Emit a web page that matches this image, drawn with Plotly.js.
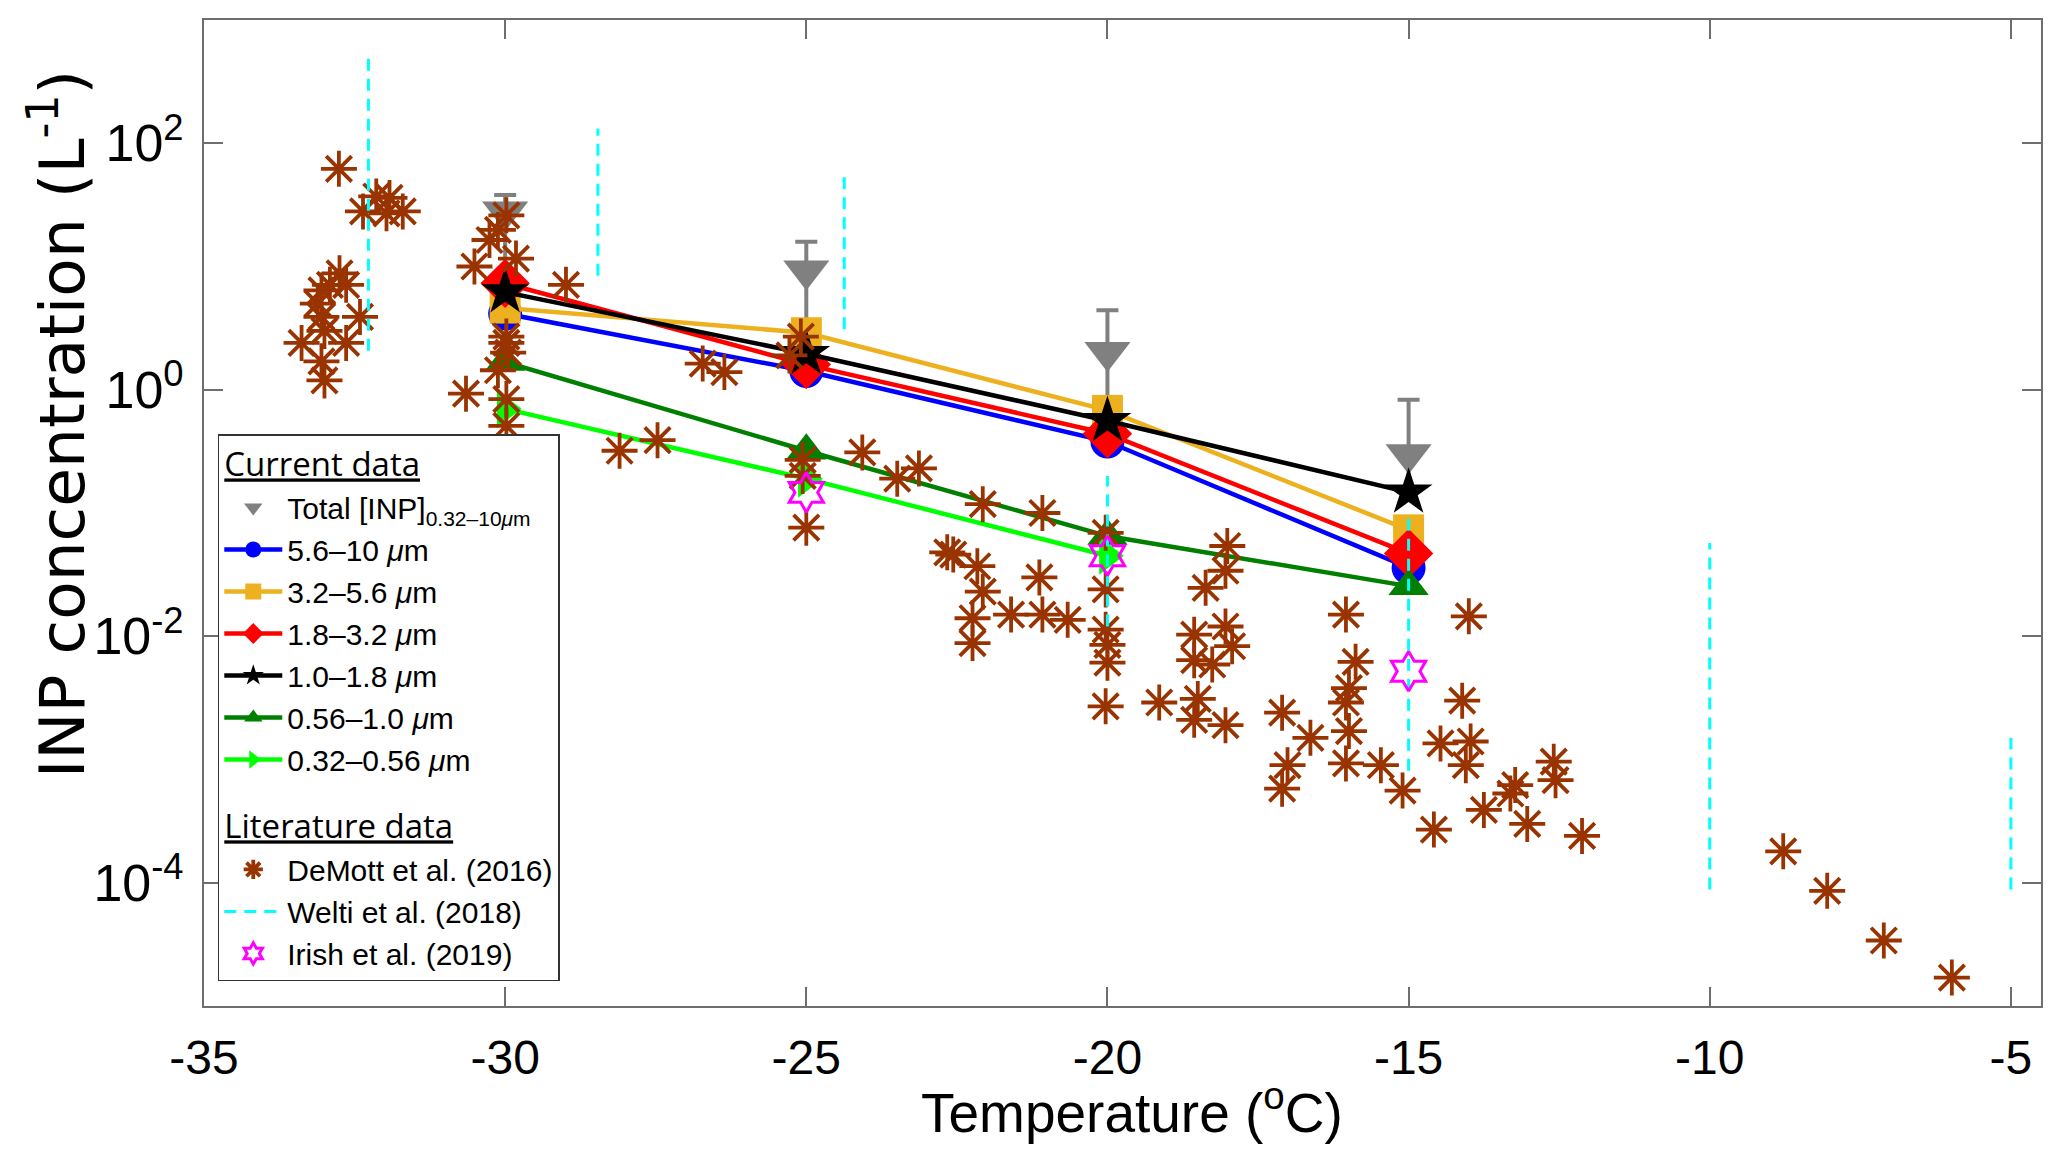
<!DOCTYPE html>
<html>
<head>
<meta charset="utf-8">
<script src="https://cdn.plot.ly/plotly-3.0.1.min.js"></script>
<style>html,body{margin:0;padding:0;background:#fff}#chart{width:2067px;height:1154px}</style>
</head>
<body>
<div id="chart"></div>
<script>
// size-resolved INP, sampled at four temperatures
const temps = [-30, -25, -20, -15];
const totalInp = [28, 9.3, 2.02, 0.30];
const totalErrPlus = [10, 6.6, 2.4, 0.53];
const totalErrMinus = [20, 6.5, 1.35, 0.15];
const inp56to10 = [4.15, 1.42, 0.38, 0.036];
const inp32to56 = [4.6, 2.9, 0.68, 0.073];
const inp18to32 = [7.3, 1.6, 0.44, 0.047];
const inp10to18 = [6.2, 1.96, 0.56, 0.147];
const inp056to10 = [1.68, 0.32, 0.065, 0.0255];
const temps032 = [-30, -25, -20];
const inp032to056 = [0.70, 0.19, 0.045];

// DeMott et al. (2016)
const demottT = [
  -32.76, -32.14, -31.92, -32.36, -31.70, -31.97,
  -32.75, -32.91, -32.64, -33.05, -33.11, -32.41, -33.05, -33.0, -33.38, -32.64, -33.05, -33.0,
  -29.98, -30.12, -30.26, -29.82, -30.51, -28.99,
  -29.98, -29.98, -29.95, -30.12, -30.65, -29.98, -29.98, -28.1, -27.47,
  -26.72, -26.36, -25.28, -25.09, -25.06, -25.06, -25.0, -24.07, -23.49, -23.13, -22.07,
  -22.66, -22.56, -22.16, -22.07, -22.24, -22.24, -21.6,
  -21.08, -20.03, -21.13, -21.08, -20.66, -20.03, -20.03, -20.0, -20.0, -20.03,
  -19.14, -18.56, -18.56, -18.26, -18.04, -17.93, -18.01, -18.04, -18.37, -18.5, -18.56, -18.04, -17.1, -17.01, -17.1,
  -16.04, -14.0, -15.88, -15.99, -16.04, -15.99, -16.04, -16.63, -15.46, -15.1, -14.11, -14.47, -13.97, -14.05,
  -14.58, -13.75, -13.31, -13.23, -13.03, -12.59, -12.56, -12.12,
  -8.78, -8.05, -7.11, -5.98
];
const demottInp = [
  62, 37, 36, 28, 28, 27,
  8.8, 7.1, 7.1, 6.4, 5.0, 3.9, 3.9, 3.0, 2.4, 2.4, 1.7, 1.19,
  26, 19.8, 16.4, 11.6, 10, 7.1,
  2.4, 2.7, 2.0, 1.44, 0.93, 0.84, 0.51, 0.32, 0.39,
  1.63, 1.39, 1.9, 2.7, 0.27, 0.2, 0.076, 0.31, 0.19, 0.23, 0.118,
  0.048, 0.046, 0.037, 0.023, 0.014, 0.0088, 0.015,
  0.10, 0.069, 0.030, 0.015, 0.0136, 0.024, 0.0113, 0.0085, 0.0061, 0.0027,
  0.0029, 0.0103, 0.0064, 0.0059, 0.012, 0.0083, 0.054, 0.034, 0.0247, 0.0031, 0.0021, 0.0019, 0.0024, 0.0009, 0.00058,
  0.015, 0.0145, 0.0062, 0.0038, 0.0029, 0.0017, 0.00093, 0.0015, 0.0009, 0.00056, 0.0030, 0.00135, 0.0014, 0.0009,
  0.00027, 0.00039, 0.00053, 0.00062, 0.0003, 0.00096, 0.00068, 0.00024,
  1.8e-4, 8.6e-5, 3.4e-5, 1.7e-5
];

// Welti et al. (2018) ranges
const weltiT = [-32.27, -28.46, -24.37, -20, -15, -10, -5];
const weltiLow = [2.07, 8.4, 3.1, 0.012, 8.1e-4, 8.8e-5, 8.8e-5];
const weltiHigh = [513, 132, 55, 0.2, 0.095, 0.057, 0.0015];

// Irish et al. (2019)
const irishT = [-25, -20, -15];
const irishInp = [0.147, 0.045, 0.0052];

const xTicks = [-35, -30, -25, -20, -15, -10, -5];
const xTickText = ['-35', '-30', '-25', '-20', '-15', '-10', '-5'];
const yTicks = [1e-4, 1e-2, 1, 100];
const yTickText = ['10<sup>-4</sup>', '10<sup>-2</sup>', '10<sup>0</sup>', '10<sup>2</sup>'];

const narrow = 'Liberation Sans Narrow, Arial Narrow, Liberation Sans, sans-serif';
const um = '<i>\u03bc</i>m';

function sizeTrace(x, y, name, color, symbol, size) {
  return {
    x: x, y: y, name: name, type: 'scatter', mode: 'lines+markers',
    legendgroup: 'cur', legendgrouptitle: {text: '<u>Current data</u>'},
    line: {color: color, width: 4.5},
    marker: {color: color, symbol: symbol, size: size}
  };
}

// build welti as broken vertical segments
const wX = [], wY = [];
weltiT.forEach((t, i) => {
  wX.push(t, t, null);
  wY.push(weltiLow[i], weltiHigh[i], null);
});

const traces = [
  {
    x: temps, y: totalInp, name: 'Total [INP]<sub>0.32\u201310' + um + '</sub>',
    type: 'scatter', mode: 'markers',
    legendgroup: 'cur', legendgrouptitle: {text: '<u>Current data</u>'},
    marker: {color: '#808080', symbol: 'triangle-down', size: 40},
    error_y: {type: 'data', symmetric: false, array: totalErrPlus, arrayminus: totalErrMinus,
      color: '#808080', thickness: 4, width: 11}
  },
  sizeTrace(temps, inp56to10, '5.6\u201310 ' + um, '#0000ff', 'circle', 34),
  sizeTrace(temps, inp32to56, '3.2\u20135.6 ' + um, '#edb120', 'square', 31),
  sizeTrace(temps, inp18to32, '1.8\u20133.2 ' + um, '#ff0000', 'diamond', 38),
  sizeTrace(temps, inp10to18, '1.0\u20131.8 ' + um, '#000000', 'star', 36),
  sizeTrace(temps, inp056to10, '0.56\u20131.0 ' + um, '#007f00', 'triangle-up', 35),
  sizeTrace(temps032, inp032to056, '0.32\u20130.56 ' + um, '#00ff00', 'triangle-right', 33),
  {
    x: demottT, y: demottInp, name: 'DeMott et al. (2016)', type: 'scatter', mode: 'markers',
    legendgroup: 'lit', legendgrouptitle: {text: '<u>Literature data</u>'},
    marker: {symbol: 'asterisk-open', size: 30, color: '#993300', line: {color: '#993300', width: 3.8}}
  },
  {
    x: wX, y: wY, name: 'Welti et al. (2018)', type: 'scatter', mode: 'lines',
    legendgroup: 'lit', connectgaps: false,
    line: {color: '#00ffff', width: 3, dash: '12px,8px'}
  },
  {
    x: irishT, y: irishInp, name: 'Irish et al. (2019)', type: 'scatter', mode: 'markers',
    legendgroup: 'lit',
    marker: {symbol: 'hexagram-open', size: 30, color: '#ff00ff', line: {color: '#ff00ff', width: 3}}
  }
];

const axisCommon = {
  showline: true, linecolor: '#6e6e6e', linewidth: 2, mirror: 'ticks',
  ticks: 'inside', ticklen: 19, tickwidth: 2, tickcolor: '#6e6e6e',
  showgrid: false, zeroline: false
};

const layout = {
  width: 2067, height: 1154,
  margin: {l: 204, r: 26, t: 20, b: 148},
  paper_bgcolor: '#fff', plot_bgcolor: '#fff',
  showlegend: true,
  xaxis: Object.assign({}, axisCommon, {
    range: [-35, -4.5], tickmode: 'array', tickvals: xTicks, ticktext: xTickText,
    ticklabelstandoff: 8,
    tickfont: {family: narrow, size: 48, color: '#000'}
  }),
  yaxis: Object.assign({}, axisCommon, {
    type: 'log', range: [-5, 3], tickmode: 'array', tickvals: yTicks, ticktext: yTickText,
    ticklabelstandoff: 8,
    tickfont: {family: narrow, size: 52, color: '#000'}
  }),
  // axis titles placed as in the original figure (y title sits above centre)
  annotations: [
    {text: 'Temperature (<sup>o</sup>C)', xref: 'paper', yref: 'paper', x: 0.505, y: -0.104,
      xanchor: 'center', yanchor: 'middle', showarrow: false,
      font: {family: narrow, size: 55, color: '#000'}},
    {text: 'INP concentration (L<sup>-1</sup>)', xref: 'paper', yref: 'paper', x: -0.0795, y: 0.59,
      xanchor: 'center', yanchor: 'middle', showarrow: false, textangle: -90,
      font: {family: 'DejaVu Sans, sans-serif', size: 63, color: '#000'}}
  ],
  legend: {
    x: 0.0075, y: 0.58, xanchor: 'left', yanchor: 'top',
    bgcolor: '#fff', bordercolor: '#333', borderwidth: 1.5,
    font: {family: narrow, size: 30, color: '#000'},
    grouptitlefont: {family: 'Open Sans, sans-serif', size: 33, color: '#000'},
    traceorder: 'grouped', tracegroupgap: 22, itemwidth: 58
  }
};

Plotly.newPlot('chart', traces, layout, {displayModeBar: false, staticPlot: true});
</script>
</body>
</html>
